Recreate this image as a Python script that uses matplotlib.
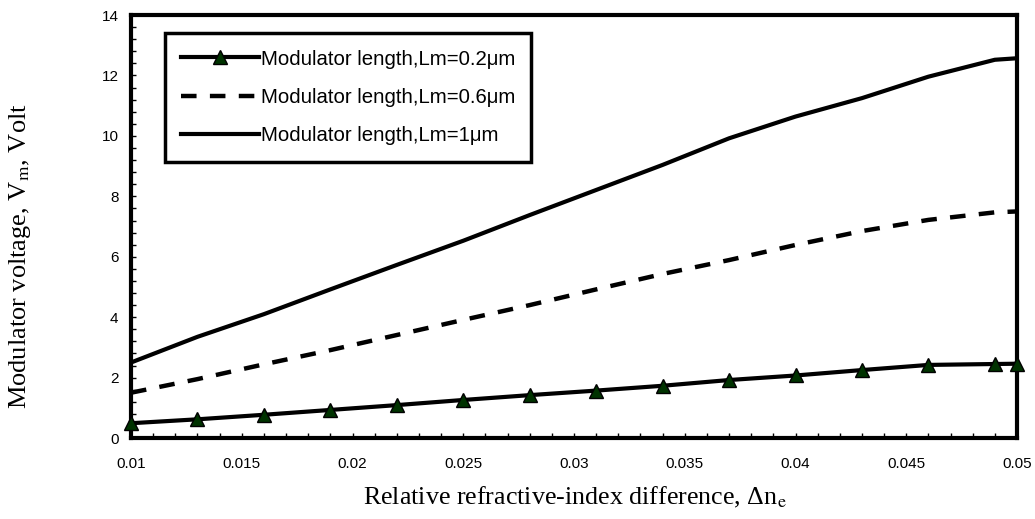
#!/usr/bin/env python
# coding: utf-8

import matplotlib
matplotlib.use("Agg")
import matplotlib.pyplot as plt
from matplotlib.ticker import MultipleLocator, FixedLocator, FixedFormatter

################################################################################
# # Data
################################################################################

delta_n = [0.010, 0.013, 0.016, 0.019, 0.022, 0.025, 0.028, 0.031,
           0.034, 0.037, 0.040, 0.043, 0.046, 0.049, 0.050]

v_lm_02 = [0.49, 0.62, 0.77, 0.93, 1.09, 1.26, 1.42, 1.57,
           1.73, 1.92, 2.07, 2.25, 2.42, 2.45, 2.46]
v_lm_06 = [1.50, 1.95, 2.44, 2.91, 3.41, 3.91, 4.40, 4.92,
           5.43, 5.89, 6.39, 6.85, 7.22, 7.47, 7.50]
v_lm_1 = [2.50, 3.35, 4.10, 4.92, 5.73, 6.53, 7.38, 8.21,
          9.04, 9.92, 10.64, 11.25, 11.96, 12.52, 12.57]

labels = ["Modulator length,Lm=0.2\u03bcm",
          "Modulator length,Lm=0.6\u03bcm",
          "Modulator length,Lm=1\u03bcm"]

x_ticks = [0.01, 0.015, 0.02, 0.025, 0.03, 0.035, 0.04, 0.045, 0.05]
x_tick_labels = ["0.01", "0.015", "0.02", "0.025", "0.03",
                 "0.035", "0.04", "0.045", "0.05"]
y_ticks = [0, 2, 4, 6, 8, 10, 12, 14]

################################################################################
# # Plot
################################################################################

plt.rcParams["font.family"] = ["Liberation Sans", "DejaVu Sans"]
plt.rcParams["mathtext.fontset"] = "stix"

fig = plt.figure(figsize=(10.35, 5.19), dpi=100)
ax = fig.add_axes([0.1266, 0.156, 0.8560, 0.815])

ax.plot(delta_n, v_lm_02, color="black", lw=3.0,
        marker="^", markersize=10, markerfacecolor="#003300",
        markeredgecolor="black", markeredgewidth=1.0,
        label=labels[0], clip_on=False, zorder=3)
ax.plot(delta_n, v_lm_06, color="black", lw=3.2,
        dashes=(3.5, 3.0), dash_capstyle="butt",
        label=labels[1], zorder=3)
ax.plot(delta_n, v_lm_1, color="black", lw=3.0,
        label=labels[2], zorder=3)

ax.set_xlim(0.01, 0.05)
ax.set_ylim(0, 14)

ax.xaxis.set_major_locator(FixedLocator(x_ticks))
ax.xaxis.set_major_formatter(FixedFormatter(x_tick_labels))
ax.xaxis.set_minor_locator(MultipleLocator(0.001))
ax.yaxis.set_major_locator(FixedLocator(y_ticks))
ax.yaxis.set_minor_locator(MultipleLocator(0.4))

ax.tick_params(axis="both", which="both", direction="in",
               top=False, right=False, length=3.5, width=1.0,
               labelsize=11)
ax.tick_params(axis="x", which="major", pad=14)
ax.tick_params(axis="y", which="major", pad=9)

for side in ax.spines.values():
    side.set_linewidth(3.0)

leg = ax.legend(loc="upper left", bbox_to_anchor=(0.038, 0.957),
                borderaxespad=0, fontsize=14.7, handlelength=3.8,
                handletextpad=0.1, labelspacing=0.95, borderpad=0.8,
                fancybox=False, framealpha=1, edgecolor="black")
leg.get_frame().set_linewidth(2.5)

fig.text(0.5556, 1 - 497 / 519,
         "Relative refractive-index difference, \u0394n$_{\\mathrm{e}}$",
         ha="center", va="center", fontsize=18.7, family="Liberation Serif")
fig.text(0.0193, 1 - 256 / 519,
         "Modulator voltage, V$_{\\mathrm{m}}$, Volt",
         ha="center", va="center", rotation=90, fontsize=19,
         family="Liberation Serif")

fig.savefig("out.png", dpi=100, facecolor="white")
